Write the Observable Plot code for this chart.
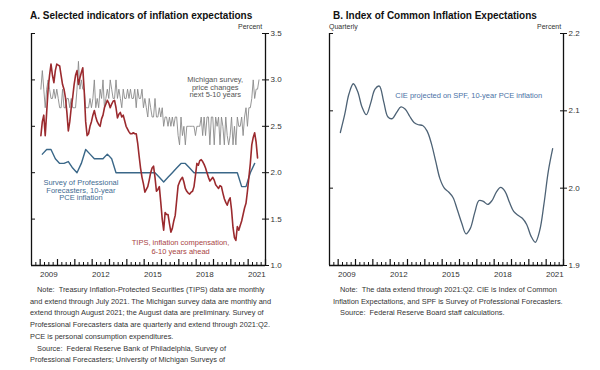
<!DOCTYPE html>
<html><head><meta charset="utf-8">
<script src="https://cdn.jsdelivr.net/npm/d3@7"></script>
<script src="https://cdn.jsdelivr.net/npm/@observablehq/plot@0.6"></script>
<style>
body{margin:0;background:#fff;font-family:"Liberation Sans",Arial,Helvetica,sans-serif;}
#wrap{position:relative;width:600px;height:370px;overflow:hidden;background:#fff}
.title{position:absolute;z-index:2;top:10px;font-weight:bold;font-size:10px;line-height:12px;color:#111;white-space:nowrap}
.unit{position:absolute;z-index:2;top:23px;font-size:7px;line-height:8px;color:#333;white-space:nowrap}
.note{position:absolute;z-index:2;top:284px;font-size:7.4px;line-height:11.7px;color:#333;white-space:nowrap}
.panel{position:absolute;top:0;z-index:1}
.ind{padding-left:7px}
</style></head>
<body><div id="wrap">
<div id="pa" class="panel" style="left:0"></div>
<div id="pb" class="panel" style="left:298px"></div>
<div class="title" style="left:30px">A. Selected indicators of inflation expectations</div>
<div class="unit" style="left:238px">Percent</div>
<div class="title" style="left:333px">B. Index of Common Inflation Expectations</div>
<div class="unit" style="left:329px">Quarterly</div>
<div class="unit" style="left:537px">Percent</div>
<div class="note" style="left:30px"><span class="ind">Note:&nbsp; Treasury Inflation-Protected Securities (TIPS) data are monthly</span><br>and extend through July 2021. The Michigan survey data are monthly and<br>extend through August 2021; the August data are preliminary. Survey of<br>Professional Forecasters data are quarterly and extend through 2021:Q2.<br>PCE is personal consumption expenditures.<br><span class="ind">Source:&nbsp; Federal Reserve Bank of Philadelphia, Survey of</span><br>Professional Forecasters; University of Michigan Surveys of</div>
<div class="note" style="left:333px"><span class="ind">Note:&nbsp; The data extend through 2021:Q2. CIE is Index of Common</span><br>Inflation Expectations, and SPF is Survey of Professional Forecasters.<br><span class="ind">Source:&nbsp; Federal Reserve Board staff calculations.</span></div>
</div>
<script>
// ---- data ----
const startYear = 2009;
// TIPS inflation compensation 6-10 years ahead, monthly Jan 2009 - Jul 2021
const tipsValues = [
2.40,2.55,2.62,2.40,2.65,2.90,3.05,3.17,3.05,2.97,3.10,3.17,
3.16,3.15,3.05,2.95,2.90,2.81,2.65,2.45,2.55,2.70,2.81,2.95,
3.05,3.10,2.95,3.02,3.08,3.13,2.88,2.55,2.40,2.42,2.50,2.55,
2.62,2.67,2.60,2.55,2.52,2.50,2.58,2.62,2.70,2.74,2.78,2.75,
2.70,2.74,2.77,2.78,2.70,2.59,2.63,2.65,2.60,2.62,2.56,2.50,
2.47,2.44,2.42,2.42,2.43,2.42,2.42,2.32,2.18,2.05,1.95,1.88,
1.79,1.82,1.85,1.92,2.00,2.05,2.07,1.95,1.80,1.82,1.85,1.68,
1.50,1.38,1.57,1.55,1.55,1.45,1.36,1.40,1.48,1.54,1.70,1.86,
1.90,1.93,1.95,1.90,1.83,1.80,1.78,1.77,1.79,1.80,1.85,1.97,
2.10,2.08,2.13,2.14,2.12,2.09,2.05,2.00,1.95,1.91,1.93,1.95,
1.92,1.87,1.85,1.83,1.86,1.85,1.78,1.72,1.68,1.65,1.70,1.73,
1.60,1.41,1.30,1.27,1.42,1.38,1.43,1.48,1.55,1.62,1.67,1.80,
1.95,2.10,2.30,2.38,2.43,2.33,2.16];
// Michigan survey, price changes next 5-10 years, monthly Jan 2009 - Aug 2021
const michiganValues = [
2.9,3.1,2.9,2.7,2.9,3.0,2.9,2.8,2.8,2.9,2.8,2.9,
2.8,2.7,2.7,2.9,2.7,2.7,2.8,2.8,2.7,2.8,2.7,2.7,
2.7,2.9,3.2,2.9,3.0,2.9,2.9,2.7,2.7,2.7,2.8,2.7,
2.8,3.0,2.7,2.8,2.7,2.9,2.8,3.0,2.7,2.8,2.9,2.8,
3.0,2.9,2.8,2.8,3.0,2.8,2.9,2.8,2.7,2.9,2.8,2.8,
2.9,2.8,2.9,2.8,2.8,2.9,2.7,2.9,2.8,2.8,2.9,2.7,
2.8,2.7,2.6,2.8,2.7,2.6,2.6,2.8,2.6,2.6,2.7,2.6,
2.7,2.5,2.6,2.6,2.5,2.6,2.5,2.6,2.5,2.6,2.6,2.4,
2.3,2.6,2.4,2.5,2.3,2.5,2.5,2.5,2.5,2.5,2.5,2.4,
2.5,2.5,2.5,2.6,2.4,2.6,2.4,2.6,2.6,2.3,2.6,2.6,
2.3,2.6,2.5,2.6,2.3,2.6,2.5,2.3,2.6,2.4,2.3,2.4,
2.6,2.3,2.5,2.3,2.6,2.5,2.5,2.6,2.4,2.6,2.7,2.5,
2.7,2.7,2.8,3.0,2.8,2.9,2.9,3.0];
// SPF 10-year PCE inflation, quarterly 2009:Q1 - 2021:Q2
const spfValues = [
2.20,2.25,2.25,2.15,2.10,2.10,2.12,2.05,2.00,2.10,2.25,2.20,2.15,
2.15,2.15,2.20,2.15,2.00,2.00,2.00,2.00,2.00,2.00,2.00,2.00,2.00,
2.00,1.95,1.90,1.95,2.00,2.05,2.10,2.10,2.05,2.00,2.00,2.00,2.00,
2.00,2.00,2.00,2.00,2.00,2.00,2.00,1.85,1.85,2.00,2.10];
// CIE projected on SPF, quarterly 2009:Q1 - 2021:Q2
const cieValues = [
2.072,2.095,2.122,2.135,2.125,2.105,2.095,2.110,2.128,2.132,
2.112,2.092,2.090,2.098,2.105,2.102,2.093,2.085,2.082,2.081,
2.074,2.058,2.035,2.012,2.000,1.995,1.988,1.972,1.955,1.941,
1.948,1.968,1.984,1.983,1.979,1.984,1.995,2.001,1.996,1.982,
1.970,1.965,1.961,1.953,1.938,1.930,1.945,1.980,2.022,2.051];
const yearLabels = [2009, 2012, 2015, 2018, 2021];
const ticksA = [1.0, 1.5, 2.0, 2.5, 3.0, 3.5];
const ticksB = [1.9, 2.0, 2.1, 2.2];

const monthly = (vals) => vals.map((v, i) => ({t: startYear + (i + 0.5) / 12, v}));
const quarterly = (vals) => vals.map((v, i) => ({t: startYear + (i + 0.5) / 4, v}));
const xDomain = [2008.5, 2022];
const yearTicks = d3.range(2009, 2023);
const quarterTicks = d3.range(2008.75, 2022, 0.25).filter(q => q % 1 !== 0);
const fmt = d3.format(".1f");
const font = '"Liberation Sans", Arial, Helvetica, sans-serif';

function frameMarks(yTicks, yMin) {
  return [
    Plot.axisX({anchor: "bottom", label: null, ticks: quarterTicks, tickSize: -3, tickFormat: () => "", stroke: "#111"}),
    Plot.axisX({anchor: "bottom", label: null, ticks: yearTicks, tickSize: -6, tickFormat: () => "", stroke: "#111", strokeWidth: 1.2}),
    Plot.axisX({anchor: "bottom", label: null, ticks: yearLabels.map(y => y + 0.5), tickSize: 0, tickPadding: 6, tickFormat: d => String(Math.floor(d)), fill: "#333", fontSize: 8}),
    Plot.axisY({anchor: "left", label: null, ticks: yTicks, tickSize: -4, tickFormat: () => "", stroke: "#111"}),
    Plot.axisY({anchor: "right", label: null, ticks: yTicks, tickSize: -4, tickFormat: () => "", stroke: "#111"}),
    Plot.axisY({anchor: "right", label: null, ticks: yTicks, tickSize: 3, tickPadding: 2, tickFormat: fmt, fill: "#333", fontSize: 8, stroke: "#111"}),
    Plot.ruleX(xDomain, {stroke: "#111", strokeWidth: 1.3}),
    Plot.ruleY([yMin], {stroke: "#111", strokeWidth: 1.3})
  ];
}

const common = {width: 300, height: 282, marginLeft: 31, marginRight: 35, marginTop: 33, marginBottom: 17,
  style: {fontFamily: font, background: "transparent", overflow: "visible"}};

const pa = Plot.plot({...common,
  x: {domain: xDomain, axis: null},
  y: {domain: [1, 3.5], axis: null},
  marks: [
    Plot.line(monthly(michiganValues), {x: "t", y: "v", stroke: "#8a8a8a", strokeWidth: 0.9}),
    Plot.line(quarterly(spfValues), {x: "t", y: "v", stroke: "#3a6788", strokeWidth: 1.4}),
    Plot.line(monthly(tipsValues), {x: "t", y: "v", stroke: "#9b2a2e", strokeWidth: 1.6}),
    Plot.text(["Michigan survey,\nprice changes\nnext 5-10 years"], {x: 2019.1, y: 2.92, fill: "#555", fontSize: 7.5, lineHeight: 1.0}),
    Plot.text(["Survey of Professional\nForecasters, 10-year\nPCE inflation"], {x: 2011.35, y: 1.81, fill: "#3f6c92", fontSize: 7.5, lineHeight: 1.0}),
    Plot.text(["TIPS, inflation compensation,\n6-10 years ahead"], {x: 2017.1, y: 1.2, fill: "#a94545", fontSize: 7.5, lineHeight: 1.1}),
    ...frameMarks(ticksA, 1)
  ]});
document.getElementById("pa").appendChild(pa);

const pb = Plot.plot({...common,
  x: {domain: xDomain, axis: null},
  y: {domain: [1.9, 2.2], axis: null},
  marks: [
    Plot.line(quarterly(cieValues), {x: "t", y: "v", stroke: "#4d6275", strokeWidth: 1.3, curve: "catmull-rom"}),
    Plot.text(["CIE projected on SPF, 10-year PCE inflation"], {x: 2012.3, y: 2.12, textAnchor: "start", fill: "#4a72a6", fontSize: 7.5}),
    ...frameMarks(ticksB, 1.9)
  ]});
document.getElementById("pb").appendChild(pb);
</script>
</body></html>
